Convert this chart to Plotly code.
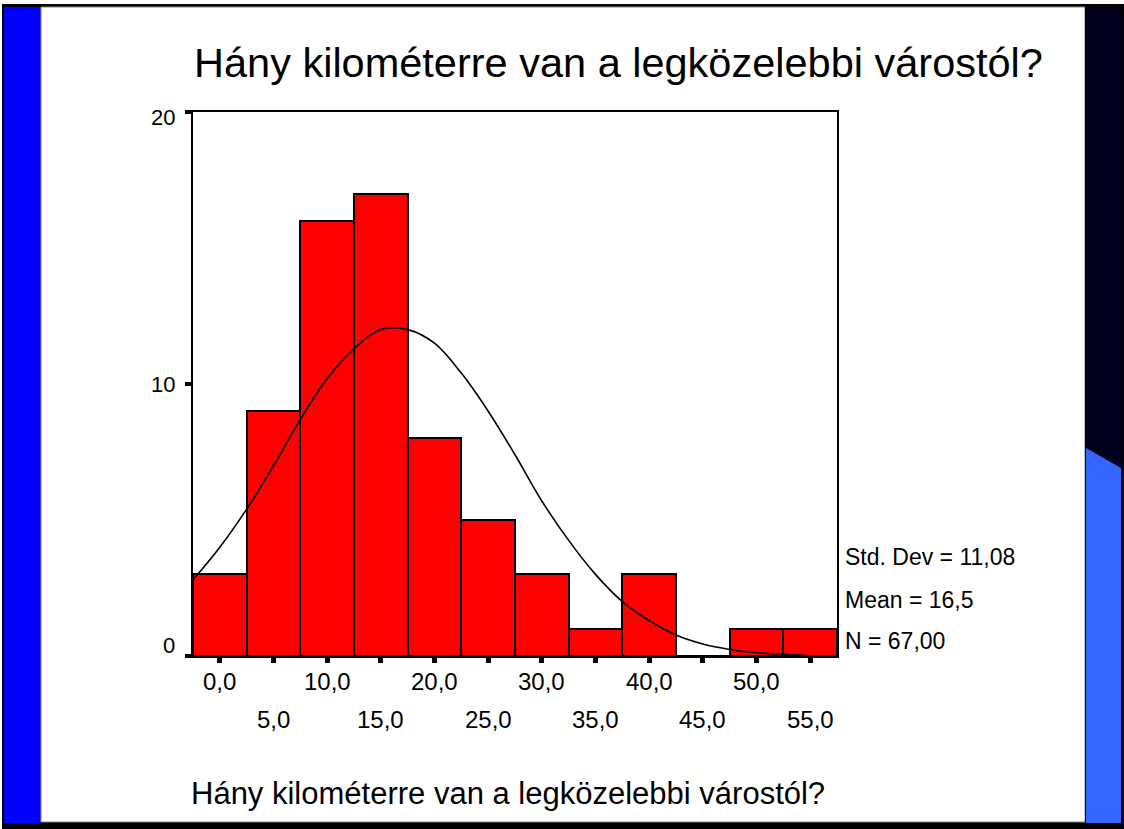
import plotly.graph_objects as go

# ---- data ----
bin_centers = [0, 5, 10, 15, 20, 25, 30, 35, 40, 45, 50, 55]
counts = [3, 9, 16, 17, 8, 5, 3, 1, 3, 0, 1, 1]
bin_width = 5
x_tick_labels = ["0,0", "5,0", "10,0", "15,0", "20,0", "25,0", "30,0", "35,0",
                 "40,0", "45,0", "50,0", "55,0"]
y_tick_vals = [0, 10, 20]
y_tick_labels = ["0", "10", "20"]
# normal curve as drawn
curve_x = [-2.5, 0, 2.5, 5, 7.5, 10, 12.5, 15, 17.5, 20, 22.5, 25, 27.5, 30,
           32.5, 35, 37.5, 40, 42.5, 45, 47.5, 50, 52.5, 54.5]
curve_y = [2.8, 4.0, 5.4, 7.0, 8.7, 10.2, 11.3, 12.0, 12.0, 11.5, 10.4, 9.0,
           7.4, 5.7, 4.25, 3.0, 2.0, 1.3, 0.77, 0.44, 0.24, 0.12, 0.06, 0.03]
stats_lines = ["Std. Dev = 11,08", "Mean = 16,5", "N = 67,00"]
title_text = "Hány kilométerre van a legközelebbi várostól?"
x_title_text = "Hány kilométerre van a legközelebbi várostól?"

# ---- layout geometry ----
W, H = 1124, 829
PL, PR, PT, PB = 193, 837, 112, 656
FONT = "Liberation Sans, Arial, sans-serif"


def xp(px):
    return (px - PL) / (PR - PL)


def yp(py):
    return (PB - py) / (PB - PT)


fig = go.Figure()
fig.add_trace(go.Bar(
    x=bin_centers, y=counts, width=bin_width,
    marker=dict(color="#FF0000", line=dict(color="black", width=2)),
    hoverinfo="x+y", showlegend=False,
))
fig.add_trace(go.Scatter(
    x=curve_x, y=curve_y, mode="lines",
    line=dict(color="black", width=1.6, shape="spline"),
    showlegend=False,
))

annotations = []
annotations.append(dict(
    text=title_text, xref="paper", yref="paper", x=xp(192), y=yp(63),
    xanchor="left", yanchor="middle", showarrow=False,
    font=dict(family=FONT, size=41.5, color="black"),
))
annotations.append(dict(
    text=x_title_text, xref="paper", yref="paper", x=xp(189), y=yp(793),
    xanchor="left", yanchor="middle", showarrow=False,
    font=dict(family=FONT, size=31, color="black"),
))
for i, (xv, lab) in enumerate(zip(bin_centers, x_tick_labels)):
    row_y = 681 if i % 2 == 0 else 719
    annotations.append(dict(
        text=lab, xref="x", yref="paper", x=xv, y=yp(row_y),
        xanchor="center", yanchor="middle", showarrow=False,
        font=dict(family=FONT, size=24, color="black"),
    ))
# y tick labels (SPSS places them slightly off the tick marks)
for yv, lab, shift in zip(y_tick_vals, y_tick_labels, [11, 0, -5]):
    annotations.append(dict(
        text=lab, xref="paper", yref="y", x=xp(177), y=yv, yshift=shift,
        xanchor="right", yanchor="middle", showarrow=False,
        font=dict(family=FONT, size=22, color="black"),
    ))
for lab, py in zip(stats_lines, [557, 600, 641]):
    annotations.append(dict(
        text=lab, xref="paper", yref="paper", x=xp(843), y=yp(py),
        xanchor="left", yanchor="middle", showarrow=False,
        font=dict(family=FONT, size=23, color="black"),
    ))

# slide decorations
shapes = []


def rect(x0, y0, x1, y1, color, line=None):
    shapes.append(dict(
        type="rect", xref="paper", yref="paper",
        x0=xp(x0), x1=xp(x1), y0=yp(y1), y1=yp(y0),
        fillcolor=color, line=line or dict(width=0), layer="below",
    ))


rect(2, 4, 1124, 829, "black")
rect(4, 7, 41, 823, "#0000FF")
rect(41, 7, 1085, 822, "white", dict(color="#888888", width=1))
rect(1085, 7, 1121, 823, "#00001E")
pts = [(1086, 448), (1121, 468), (1121, 823), (1086, 823)]
path = "M " + " L ".join(f"{xp(a)},{yp(b)}" for a, b in pts) + " Z"
shapes.append(dict(type="path", xref="paper", yref="paper", path=path,
                   fillcolor="#3366FF", line=dict(width=0), layer="below"))

fig.update_layout(
    width=W, height=H,
    margin=dict(l=PL, r=W - PR, t=PT, b=H - PB, pad=0),
    paper_bgcolor="white", plot_bgcolor="white",
    bargap=0,
    annotations=annotations, shapes=shapes,
    font=dict(family=FONT, color="black"),
    xaxis=dict(
        range=[-2.5, 57.5], tickvals=bin_centers, showticklabels=False,
        ticks="outside", ticklen=5, tickwidth=5, tickcolor="black",
        showline=True, linecolor="black", linewidth=2, mirror=True,
        showgrid=False, zeroline=False,
    ),
    yaxis=dict(
        range=[0, 20], tickvals=y_tick_vals, showticklabels=False,
        ticks="outside", ticklen=6, tickwidth=4, tickcolor="black",
        showline=True, linecolor="black", linewidth=2, mirror=True,
        showgrid=False, zeroline=False,
    ),
)

fig.write_html(
    "out.html",
    config={"displayModeBar": False},
    post_script="document.body.style.margin='0';document.body.style.overflow='hidden';",
)
